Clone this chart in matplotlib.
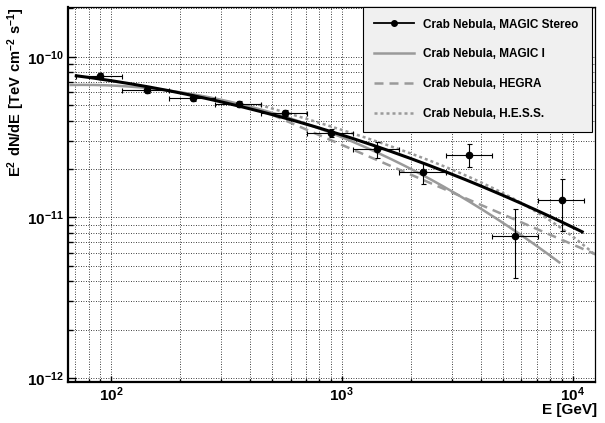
import numpy as np
import matplotlib
matplotlib.use("Agg")
import matplotlib.pyplot as plt
from matplotlib.lines import Line2D
from matplotlib.ticker import FixedLocator, LogLocator, NullFormatter

plt.rcParams['font.family'] = ['Liberation Sans', 'DejaVu Sans']
plt.rcParams['font.weight'] = 'bold'
plt.rcParams['mathtext.fontset'] = 'custom'
plt.rcParams['mathtext.rm'] = 'Liberation Sans:bold'
plt.rcParams['mathtext.bf'] = 'Liberation Sans:bold'
plt.rcParams['mathtext.default'] = 'bf'

# MAGIC stereo spectral points (E in GeV, E^2 dN/dE in TeV cm^-2 s^-1)
energy = [90, 143, 226, 359, 569, 896, 1426, 2244, 3556, 5625, 8955]
e_low = [70.8, 112, 178, 282, 447, 708, 1122, 1778, 2818, 4467, 7079]
e_high = [112, 178, 282, 447, 708, 1122, 1778, 2818, 4467, 7079, 11220]
flux = [7.59e-11, 6.21e-11, 5.51e-11, 5.10e-11, 4.46e-11, 3.34e-11,
        2.65e-11, 1.93e-11, 2.46e-11, 7.71e-12, 1.285e-11]
flux_low = [7.25e-11, 5.93e-11, 5.27e-11, 4.88e-11, 4.26e-11, 3.15e-11,
            2.33e-11, 1.61e-11, 2.05e-11, 4.2e-12, 8.28e-12]
flux_high = [7.95e-11, 6.50e-11, 5.77e-11, 5.34e-11, 4.67e-11, 3.53e-11,
             2.93e-11, 2.17e-11, 2.85e-11, 1.125e-11, 1.73e-11]

# published fit functions: norm, E0 [TeV], index, curvature (log10), cutoff [TeV], range [GeV]
stereo_fit = dict(norm=3.26e-11, e0=1.0, index=2.456, curv=0.118, cutoff=None, erange=(70.8, 11000))
magic1_fit = dict(norm=6.0e-10, e0=0.3, index=2.31, curv=0.26, cutoff=None, erange=(67, 8750))
hegra_fit = dict(norm=2.83e-11, e0=1.0, index=2.62, curv=0.0, cutoff=None, erange=(500, 20000))
hess_fit = dict(norm=3.76e-11, e0=1.0, index=2.39, curv=0.0, cutoff=14.3, erange=(440, 20000))

labels = ["Crab Nebula, MAGIC Stereo", "Crab Nebula, MAGIC I",
          "Crab Nebula, HEGRA", "Crab Nebula, H.E.S.S."]

xticks = [1e2, 1e3, 1e4]
xtick_labels = [r"$10^{2}$", r"$10^{3}$", r"$10^{4}$"]
yticks = [1e-12, 1e-11, 1e-10]
ytick_labels = [r"$10^{-12}$", r"$10^{-11}$", r"$10^{-10}$"]


def sed_curve(p, n=300):
    e_gev = np.logspace(np.log10(p["erange"][0]), np.log10(p["erange"][1]), n)
    e = e_gev / 1000.
    x = e / p["e0"]
    dnde = p["norm"] * x ** (-p["index"] - p["curv"] * np.log10(x))
    if p["cutoff"]:
        dnde = dnde * np.exp(-e / p["cutoff"])
    return e_gev, e ** 2 * dnde


grey = "#9a9a9a"
fig = plt.figure(figsize=(6.05, 4.23), dpi=100)
ax = fig.add_axes([0.1119, 0.0976, 0.8716, 0.8851])

ax.set_xscale("log")
ax.set_yscale("log")
ax.set_xlim(65, 12500)
ax.set_ylim(9.5e-13, 2.03e-10)

ax.grid(True, which="both", color="black", linestyle=(0, (1, 2)), linewidth=0.6)
ax.set_axisbelow(True)

x, y = sed_curve(magic1_fit)
ax.plot(x, y, color=grey, lw=1.8)
x, y = sed_curve(hegra_fit)
ax.plot(x, y, color=grey, lw=1.8, linestyle=(0, (3.6, 2.4)))
x, y = sed_curve(hess_fit)
ax.plot(x, y, color=grey, lw=1.8, linestyle=(0, (1.2, 1.2)))
x, y = sed_curve(stereo_fit)
ax.plot(x, y, color="black", lw=2.2)

energy_arr = np.array(energy)
flux_arr = np.array(flux)
xerr = [energy_arr - np.array(e_low), np.array(e_high) - energy_arr]
yerr = [flux_arr - np.array(flux_low), np.array(flux_high) - flux_arr]
ax.errorbar(energy_arr, flux_arr, xerr=xerr, yerr=yerr, fmt="o", color="black",
            ms=4.5, elinewidth=0.8, capsize=1.8, capthick=0.8, zorder=5)

handles = [Line2D([], [], color="black", lw=1.3, marker="o", ms=4),
           Line2D([], [], color=grey, lw=1.8),
           Line2D([], [], color=grey, lw=1.8, linestyle=(0, (3.6, 2.4))),
           Line2D([], [], color=grey, lw=1.8, linestyle=(0, (1.2, 1.2)))]
leg = ax.legend(handles, labels, bbox_to_anchor=(0.560, 0.680, 0.434, 0.320), mode="expand",
                loc="upper left", borderaxespad=0, prop={"weight": "bold", "size": 8.5},
                frameon=True, fancybox=False, framealpha=1, facecolor="#f0f0f0", edgecolor="black",
                handlelength=3.4, handletextpad=0.7, borderpad=0.95, labelspacing=1.52)
leg.get_frame().set_linewidth(0.8)

ax.xaxis.set_major_locator(FixedLocator(xticks))
ax.set_xticklabels(xtick_labels)
ax.yaxis.set_major_locator(FixedLocator(yticks))
ax.set_yticklabels(ytick_labels)
ax.xaxis.set_minor_locator(LogLocator(base=10, subs=np.arange(2, 10)))
ax.yaxis.set_minor_locator(LogLocator(base=10, subs=np.arange(2, 10)))
ax.xaxis.set_minor_formatter(NullFormatter())
ax.yaxis.set_minor_formatter(NullFormatter())

ax.tick_params(which="both", direction="in", top=False, right=False, labelsize=11, width=1.0)
ax.tick_params(axis="x", which="major", length=4.5, pad=3)
ax.tick_params(axis="x", which="minor", length=2.3)
ax.tick_params(axis="y", which="major", length=5.8, pad=3)
ax.tick_params(axis="y", which="minor", length=3.6)

for side in ["left", "bottom"]:
    ax.spines[side].set_linewidth(1.6)
for side in ["top", "right"]:
    ax.spines[side].set_linewidth(0.9)

ax.set_xlabel(r"E [GeV]", fontsize=11, fontweight="bold", ha="right", va="top")
ax.xaxis.set_label_coords(1.004, -0.056)
ax.set_ylabel(r"$E^{2}\ dN/dE\ [TeV\ cm^{-2}\ s^{-1}]$", fontsize=10.5, ha="right", va="center")
ax.yaxis.set_label_coords(-0.098, 1.0)

fig.savefig("out.png", dpi=100)
